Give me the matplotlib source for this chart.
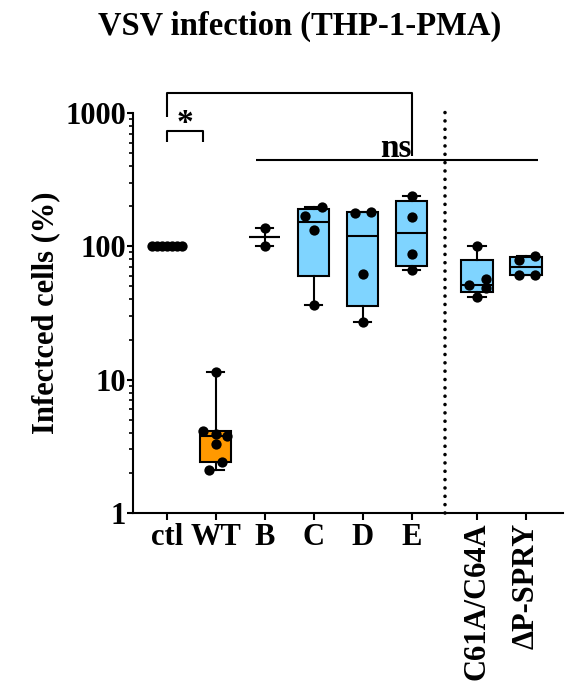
import numpy as np
import matplotlib
matplotlib.use("Agg")
import matplotlib.pyplot as plt

plt.rcParams["font.family"] = ["Liberation Serif", "DejaVu Serif"]
plt.rcParams["font.weight"] = "bold"

# groups and measured values (% infected cells)
GROUPS = ["ctl", "WT", "B", "C", "D", "E", "C61A/C64A", "\u0394P-SPRY"]
POSITIONS = [0, 1, 2, 3, 4, 5, 6.33, 7.33]
ctl = [100, 100, 100, 100, 100, 100, 100]
wt = [11.5, 4.1, 3.9, 3.8, 3.3, 2.4, 2.1]
b = [136, 100]
c = [196, 170, 132, 36]
d = [180, 178, 62, 27]
e = [238, 165, 87, 66]
c61a = [100, 57, 51, 49, 42]
dp_spry = [85, 79, 61, 61]
VALUES = [ctl, wt, b, c, d, e, c61a, dp_spry]

# horizontal spread of the dots (style only)
JITTER = [
    [-0.3, -0.2, -0.1, 0.0, 0.1, 0.2, 0.3],
    [0.0, -0.27, 0.0, 0.23, 0.0, 0.12, -0.14],
    [0.0, 0.0],
    [0.16, -0.17, 0.0, 0.0],
    [0.17, -0.15, 0.0, 0.0],
    [0.0, 0.0, 0.0, 0.0],
    [0.0, 0.18, -0.16, 0.18, 0.0],
    [0.18, -0.14, -0.14, 0.18],
]

BLUE = "#7fd4ff"
ORANGE = "#ff9900"
FILLS = ["white", ORANGE, BLUE, BLUE, BLUE, BLUE, BLUE, BLUE]


def box_stats(vals, label):
    v = np.asarray(vals, float)
    if len(v) < 3:
        # too few points for quartiles: median line with min/max whiskers
        q1 = q3 = np.median(v)
    else:
        q1, q3 = np.percentile(v, [25, 75], method="weibull")
    return dict(med=np.median(v), q1=q1, q3=q3, whislo=v.min(), whishi=v.max(),
                fliers=[], label=label)


fig = plt.figure(figsize=(5.66, 6.88), dpi=100)
ax = fig.add_axes([0.235, 0.2544, 0.76, 0.5814])
ax.set_yscale("log")
ax.set_ylim(1, 1000)
ax.set_xlim(-0.69, 8.09)

lw = 1.5
stats = [box_stats(v, g) for v, g in zip(VALUES, GROUPS)]
bp = ax.bxp(stats, positions=POSITIONS, widths=0.64, capwidths=0.35,
            patch_artist=True, showfliers=False,
            boxprops=dict(linewidth=lw, edgecolor="black"),
            medianprops=dict(color="black", linewidth=lw),
            whiskerprops=dict(color="black", linewidth=lw),
            capprops=dict(color="black", linewidth=lw))
for patch, fc in zip(bp["boxes"], FILLS):
    patch.set_facecolor(fc)

for pos, vals, jit in zip(POSITIONS, VALUES, JITTER):
    ax.scatter(np.array(jit) + pos, vals, s=55, color="black", zorder=5,
               linewidths=0)

# axes styling
for s in ("top", "right"):
    ax.spines[s].set_visible(False)
ax.spines["left"].set_linewidth(lw)
ax.spines["bottom"].set_linewidth(lw)
ax.set_xticks(POSITIONS)
ax.set_xticklabels(GROUPS, fontsize=22, fontweight="bold")
for lab in ax.get_xticklabels()[6:]:
    lab.set_rotation(90)
    lab.set_va("top")
ax.set_yticks([1, 10, 100, 1000])
ax.set_yticklabels(["1", "10", "100", "1000"], fontsize=22, fontweight="bold")
ax.tick_params(axis="x", which="major", width=lw, length=5, pad=2)
ax.tick_params(axis="y", which="major", width=lw, length=4, pad=1)
ax.tick_params(axis="y", which="minor", width=1.2, length=3)
ax.set_ylabel("Infectced cells (%)", fontsize=22, fontweight="bold", labelpad=4)
fig.suptitle("VSV infection (THP-1-PMA)", x=0.53, y=0.985, fontsize=23.5,
             fontweight="bold")

# separator between constructs and point mutants
ax.plot([5.68, 5.68], [1, 1070], color="black", lw=2.6,
        linestyle=(0, (0.01, 2.3)), dash_capstyle="round", clip_on=False)

# significance brackets
k = dict(color="black", lw=lw, clip_on=False, solid_capstyle="butt")
ax.plot([0, 0, 5, 5], [929, 1406, 1406, 472], **k)
ax.plot([0, 0, 0.74, 0.74], [603, 728, 728, 603], **k)
ax.text(0.37, 830, "*", fontsize=24, fontweight="bold", ha="center", va="center")
ax.plot([1.82, 7.58], [441, 441], **k)
ax.text(4.99, 470, "ns", fontsize=24, fontweight="bold", ha="right", va="baseline")

fig.savefig("out.png", dpi=100)
